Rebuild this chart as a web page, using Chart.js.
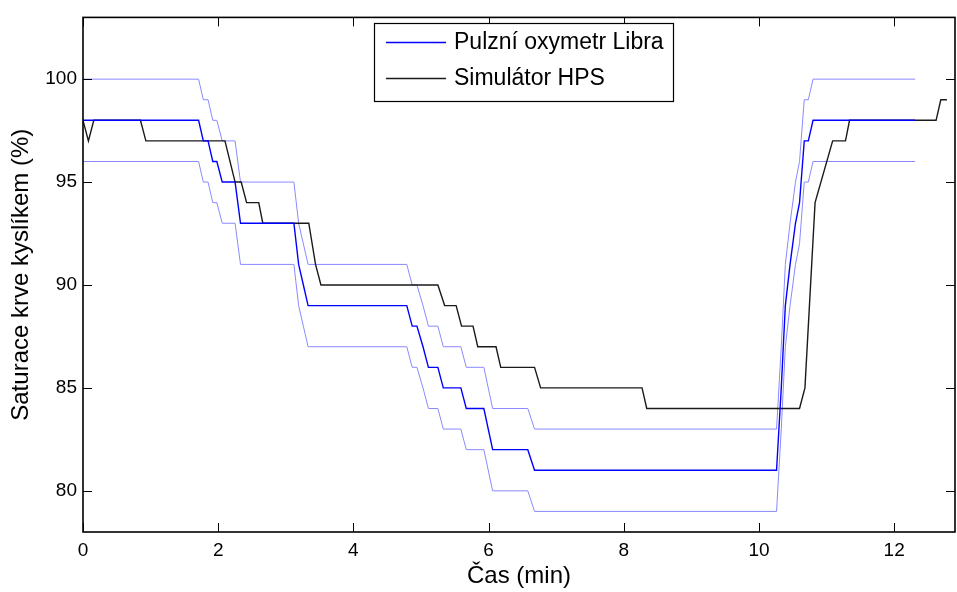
<!DOCTYPE html>
<html>
<head>
<meta charset="utf-8">
<title>Saturace krve kyslíkem</title>
<script src="https://cdn.jsdelivr.net/npm/chart.js@4.4.1/dist/chart.umd.min.js"></script>
<style>
    html, body { margin: 0; padding: 0; background: #fff; }
    #wrap { width: 957px; height: 592px; }
</style>
</head>
<body>
<div id="wrap"><canvas id="spo2-chart" width="957" height="592"></canvas></div>
<script>
    "use strict";

    // Libra pulse oximeter: time (min), reading and its +/- 2 % band
    const libraTime = [0, 1.71, 1.78, 1.85, 1.92, 1.98, 2.06, 2.25, 2.33, 3.12, 3.19, 3.26, 3.33,
        4.79, 4.87, 4.94, 5.03, 5.11, 5.25, 5.33, 5.59, 5.67, 5.93, 6.06, 6.58, 6.68,
        10.26, 10.33, 10.39, 10.46, 10.54, 10.60, 10.67, 10.73, 10.80, 12.31];
    const libraSpO2 = [98, 98, 97, 97, 96, 96, 95, 95, 93, 93, 91, 90, 89,
        89, 88, 88, 87, 86, 86, 85, 85, 84, 84, 82, 82, 81,
        81, 85, 89, 91, 93, 94, 97, 97, 98, 98];
    const libraUpper = [100, 100, 99, 99, 98, 98, 97, 97, 95, 95, 93, 92, 91,
        91, 90, 90, 89, 88, 88, 87, 87, 86, 86, 84, 84, 83,
        83, 87, 91, 93, 95, 96, 99, 99, 100, 100];
    const libraLower = [96, 96, 95, 95, 94, 94, 93, 93, 91, 91, 89, 88, 87,
        87, 86, 86, 85, 84, 84, 83, 83, 82, 82, 80, 80, 79,
        79, 83, 87, 89, 91, 92, 95, 95, 96, 96];

    // HPS simulator set values
    const hpsTime = [0, 0.08, 0.16, 0.85, 0.93, 2.10, 2.25, 2.34, 2.42, 2.60, 2.66, 3.34, 3.44, 3.52,
        5.25, 5.35, 5.52, 5.60, 5.77, 5.84, 6.11, 6.18, 6.68, 6.77, 8.27, 8.34,
        10.60, 10.68, 10.83, 11.09, 11.28, 11.34, 12.62, 12.69, 12.78];
    const hpsSpO2 = [98, 97, 98, 98, 97, 97, 95, 95, 94, 94, 93, 93, 91, 90,
        90, 89, 89, 88, 88, 87, 87, 86, 86, 85, 85, 84,
        84, 85, 94, 97, 97, 98, 98, 99, 99];

    const xTicks = [0, 2, 4, 6, 8, 10, 12];
    const yTicks = [80, 85, 90, 95, 100];
    const xRange = [0, 12.9];
    const yRange = [78, 103];

    const FONT = "'Liberation Sans', Arial, Helvetica, sans-serif";
    const TICK_LEN = 9;

    const toPoints = (xs, ys) => xs.map((t, i) => ({ x: t, y: ys[i] }));

    // box round the plot with inward ticks on all four sides
    const boxAxes = {
        id: 'boxAxes',
        afterDatasetsDraw(chart) {
            const { ctx, chartArea: a, scales: { x, y } } = chart;
            ctx.save();
            ctx.strokeStyle = '#000';
            ctx.lineWidth = 1;
            ctx.beginPath();
            xTicks.forEach(v => {
                const px = Math.round(x.getPixelForValue(v)) + 0.5;
                ctx.moveTo(px, a.bottom); ctx.lineTo(px, a.bottom - TICK_LEN);
                ctx.moveTo(px, a.top); ctx.lineTo(px, a.top + TICK_LEN);
            });
            yTicks.forEach(v => {
                const py = Math.round(y.getPixelForValue(v)) + 0.5;
                ctx.moveTo(a.left, py); ctx.lineTo(a.left + TICK_LEN, py);
                ctx.moveTo(a.right, py); ctx.lineTo(a.right - TICK_LEN, py);
            });
            ctx.stroke();
            ctx.lineWidth = 1.6;
            ctx.strokeRect(a.left, a.top, a.right - a.left, a.bottom - a.top);
            ctx.restore();
        }
    };

    // legend box, only for datasets that carry a label
    const boxLegend = {
        id: 'boxLegend',
        afterDraw(chart) {
            const { ctx } = chart;
            const box = { x: 374, y: 23, w: 299, h: 78 };
            const items = chart.data.datasets.filter(d => d.label);
            ctx.save();
            ctx.fillStyle = '#fff';
            ctx.fillRect(box.x, box.y, box.w, box.h);
            ctx.strokeStyle = '#000';
            ctx.lineWidth = 1.2;
            ctx.strokeRect(box.x + 0.5, box.y + 0.5, box.w, box.h);
            ctx.font = '23px ' + FONT;
            ctx.textBaseline = 'middle';
            ctx.fillStyle = '#000';
            items.forEach((d, i) => {
                const cy = box.y + 19 + i * 36;
                ctx.strokeStyle = d.borderColor;
                ctx.lineWidth = d.borderWidth;
                ctx.beginPath();
                ctx.moveTo(box.x + 12, cy + 0.5);
                ctx.lineTo(box.x + 72, cy + 0.5);
                ctx.stroke();
                ctx.fillText(d.label, box.x + 80, cy + 1);
            });
            ctx.restore();
        }
    };

    const ctx = document.getElementById('spo2-chart').getContext('2d');
    const spo2Chart = new Chart(ctx, {
        type: 'line',
        data: {
            datasets: [
                {
                    label: 'Pulzní oxymetr Libra',
                    data: toPoints(libraTime, libraSpO2),
                    borderColor: '#0000ff',
                    borderWidth: 1.4,
                    order: 1
                },
                {
                    label: 'Simulátor HPS',
                    data: toPoints(hpsTime, hpsSpO2),
                    borderColor: '#1a1a1a',
                    borderWidth: 1.4,
                    order: 2
                },
                {
                    data: toPoints(libraTime, libraUpper),
                    borderColor: '#8a8aff',
                    borderWidth: 1,
                    order: 3
                },
                {
                    data: toPoints(libraTime, libraLower),
                    borderColor: '#8a8aff',
                    borderWidth: 1,
                    order: 3
                }
            ]
        },
        options: {
            responsive: false,
            animation: false,
            events: [],
            layout: { padding: { top: 12, right: 2, left: 0, bottom: 0 } },
            elements: {
                point: { radius: 0 },
                line: { tension: 0, fill: false }
            },
            plugins: {
                legend: { display: false },
                tooltip: { enabled: false }
            },
            scales: {
                x: {
                    type: 'linear',
                    min: xRange[0],
                    max: xRange[1],
                    afterBuildTicks: axis => { axis.ticks = xTicks.map(v => ({ value: v })); },
                    afterFit: axis => { axis.height = 60; },
                    grid: { display: false, drawTicks: false },
                    border: { display: false },
                    ticks: {
                        color: '#000',
                        padding: 7,
                        maxRotation: 0,
                        font: { family: FONT, size: 19 }
                    },
                    title: {
                        display: true,
                        text: 'Čas (min)',
                        color: '#000',
                        padding: { top: 0, bottom: 1 },
                        font: { family: FONT, size: 24 }
                    }
                },
                y: {
                    type: 'linear',
                    min: yRange[0],
                    max: yRange[1],
                    afterBuildTicks: axis => { axis.ticks = yTicks.map(v => ({ value: v })); },
                    afterFit: axis => { axis.width = 83; },
                    grid: { display: false, drawTicks: false },
                    border: { display: false },
                    ticks: {
                        color: '#000',
                        padding: 6,
                        font: { family: FONT, size: 19 }
                    },
                    title: {
                        display: true,
                        text: 'Saturace krve kyslíkem (%)',
                        color: '#000',
                        padding: { top: 7, bottom: 0 },
                        font: { family: FONT, size: 24 }
                    }
                }
            }
        },
        plugins: [boxAxes, boxLegend]
    });
</script>
</body>
</html>
